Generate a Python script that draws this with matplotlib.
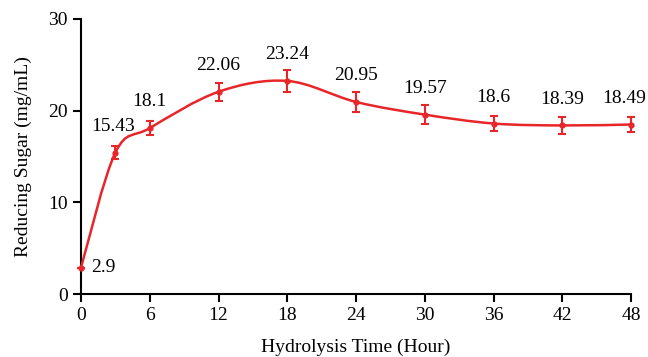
import matplotlib.pyplot as plt
from matplotlib.path import Path
from matplotlib.patches import PathPatch
import numpy as np

# hydrolysis time course
hours = [0, 3, 6, 12, 18, 24, 30, 36, 42, 48]
sugar = [2.9, 15.43, 18.1, 22.06, 23.24, 20.95, 19.57, 18.6, 18.39, 18.49]
sugar_err = [0.0, 0.7, 0.8, 1.0, 1.2, 1.1, 1.0, 0.8, 0.9, 0.8]
x_ticks = [0, 6, 12, 18, 24, 30, 36, 42, 48]
y_ticks = [0, 10, 20, 30]

RED = "#e8262a"
plt.rcParams["font.family"] = ["Liberation Serif", "DejaVu Serif"]

fig = plt.figure(figsize=(6.48, 3.57), dpi=100)
ax = fig.add_axes([0.125, 0.176, 0.849, 0.771])


def smooth_path(xs, ys):
    # bezier segments through every point (spreadsheet-style smoothed line)
    pts = np.column_stack([xs, ys]).astype(float)
    n = len(pts)
    verts = [pts[0]]
    codes = [Path.MOVETO]
    for i in range(n - 1):
        p0 = pts[i - 1] if i > 0 else pts[i]
        p1, p2 = pts[i], pts[i + 1]
        p3 = pts[i + 2] if i + 2 < n else pts[i + 1]
        c1 = p1 + (p2 - p0) / 6.0
        c2 = p2 - (p3 - p1) / 6.0
        verts += [c1, c2, p2]
        codes += [Path.CURVE4] * 3
    return Path(verts, codes)


ax.add_patch(PathPatch(smooth_path(hours, sugar), facecolor="none",
                       edgecolor=RED, lw=1.8, clip_on=False, zorder=3))
ax.errorbar(hours, sugar, yerr=sugar_err, fmt="o", ms=3.5, color=RED,
            ecolor=RED, elinewidth=1.5, capsize=3, capthick=1.5,
            clip_on=False, zorder=4)

for x, y in zip(hours, sugar):
    if x == 0:
        ax.annotate(f"{y:g}", (x, y), xytext=(7, 0), textcoords="offset points",
                    ha="left", va="center", fontsize=14)
    else:
        dx = {3: -2, 48: -5}.get(x, 0)
        ax.annotate(f"{y:g}", (x, y), xytext=(dx, 19), textcoords="offset points",
                    ha="center", va="center", fontsize=14)

ax.set_xlim(0, 48)
ax.set_ylim(0, 30)
ax.set_xticks(x_ticks)
ax.set_yticks(y_ticks)
ax.spines["top"].set_visible(False)
ax.spines["right"].set_visible(False)
for s in ("left", "bottom"):
    ax.spines[s].set_linewidth(1.5)
ax.tick_params(direction="out", length=6, width=1.5, labelsize=14)
ax.set_xlabel("Hydrolysis Time (Hour)", fontsize=14, labelpad=10)
ax.set_ylabel("Reducing Sugar (mg/mL)", fontsize=14, labelpad=12)

fig.savefig("out.png", dpi=100)
